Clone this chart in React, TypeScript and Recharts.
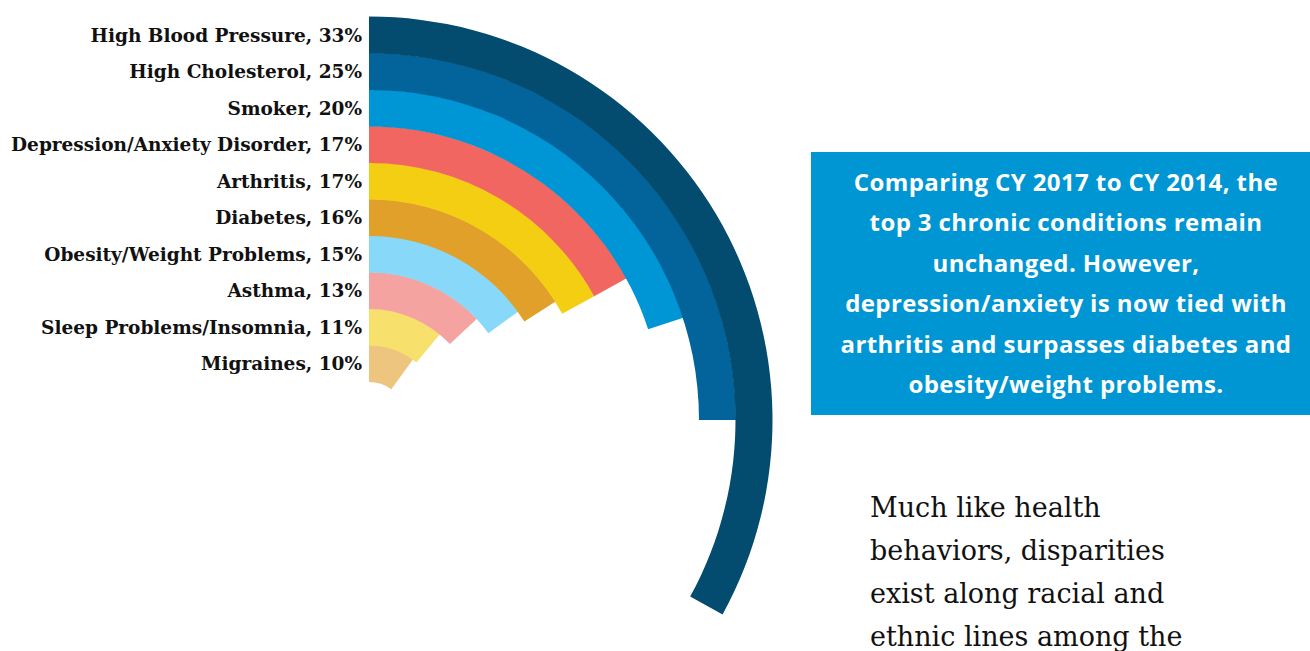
import React from 'react';
import { RadialBarChart, RadialBar, PolarAngleAxis, PolarRadiusAxis, Cell } from 'recharts';

const conditions = [
  'High Blood Pressure',
  'High Cholesterol',
  'Smoker',
  'Depression/Anxiety Disorder',
  'Arthritis',
  'Diabetes',
  'Obesity/Weight Problems',
  'Asthma',
  'Sleep Problems/Insomnia',
  'Migraines',
];
const percents = [33, 25, 20, 17, 17, 16, 15, 13, 11, 10];
const colors = [
  '#034B6F',
  '#02649A',
  '#0095D4',
  '#F26662',
  '#F4CE13',
  '#E0A02A',
  '#88D8FA',
  '#F5A3A0',
  '#F8E06C',
  '#EDC57E',
];
const boxLines = [
  'Comparing CY 2017 to CY 2014, the',
  'top 3 chronic conditions remain',
  'unchanged. However,',
  'depression/anxiety is now tied with',
  'arthritis and surpasses diabetes and',
  'obesity/weight problems.',
];
const bodyLines = [
  'Much like health',
  'behaviors, disparities',
  'exist along racial and',
  'ethnic lines among the',
];

// innermost first for the radial band scale
const data = conditions
  .map((name, i) => ({ name, value: percents[i], label: `${name}, ${percents[i]}%`, color: colors[i] }))
  .reverse();

const LabelTick = (props: any) => {
  const { x, y, payload } = props;
  const item = data.find((d) => d.name === payload.value);
  return (
    <text
      x={x - 7}
      y={y}
      textAnchor="end"
      dominantBaseline="central"
      fontFamily="'DejaVu Serif', serif"
      fontWeight={700}
      fontSize={18.5}
      fill="#111"
    >
      {item ? item.label : payload.value}
    </text>
  );
};

export default function App() {
  return (
    <div style={{ position: 'absolute', left: 0, top: 0, width: 1310, height: 651, background: '#fff', overflow: 'hidden' }}>
      <RadialBarChart
        width={1310}
        height={651}
        cx={369}
        cy={420}
        innerRadius={38}
        outerRadius={403}
        startAngle={90}
        endAngle={-270}
        barCategoryGap={0}
        barGap={0}
        data={data}
        margin={{ top: 0, right: 0, bottom: 0, left: 0 }}
      >
        <PolarAngleAxis type="number" domain={[0, 100]} tick={false} axisLine={false} />
        <PolarRadiusAxis
          type="category"
          dataKey="name"
          angle={90}
          axisLine={false}
          tickLine={false}
          tick={<LabelTick />}
        />
        <RadialBar dataKey="value" isAnimationActive={false} background={false}>
          {data.map((d) => (
            <Cell key={d.name} fill={d.color} />
          ))}
        </RadialBar>
      </RadialBarChart>

      <div
        style={{
          position: 'absolute',
          left: 811,
          top: 152,
          width: 510,
          height: 263,
          background: '#0095D3',
        }}
      />
      {boxLines.map((line, i) => (
        <div
          key={line}
          style={{
            position: 'absolute',
            left: 811,
            width: 510,
            top: 190 + i * 40.4 - 24,
            textAlign: 'center',
            color: '#fff',
            fontFamily: "'Open Sans', sans-serif",
            fontWeight: 700,
            fontSize: 24,
            letterSpacing: '0.4px',
            lineHeight: '32px',
            whiteSpace: 'nowrap',
          }}
        >
          {line}
        </div>
      ))}
      {bodyLines.map((line, i) => (
        <div
          key={line}
          style={{
            position: 'absolute',
            left: 870,
            top: 518 + i * 43 - 28,
            color: '#111',
            fontFamily: "'DejaVu Serif', serif",
            fontSize: 27,
            lineHeight: '36px',
            whiteSpace: 'nowrap',
          }}
        >
          {line}
        </div>
      ))}
    </div>
  );
}
